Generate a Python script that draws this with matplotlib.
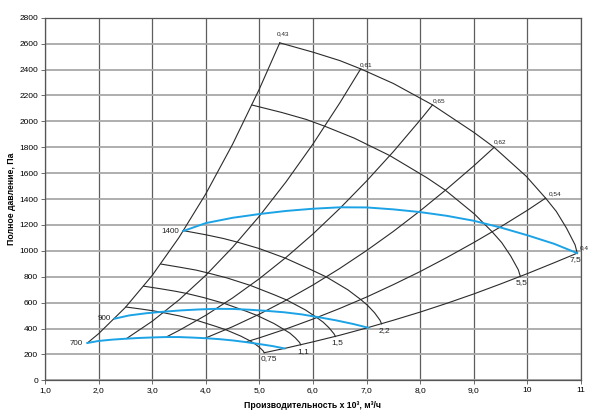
import matplotlib.pyplot as plt

plt.rcParams['font.family'] = ['Liberation Sans', 'DejaVu Sans']

# fan curves at max speed and for smaller motors, Q in 10^3 m3/h, P in Pa
q_75 = [5.38, 6.0, 6.5, 6.89, 7.5, 8.23, 9.0, 9.38, 9.98, 10.34, 10.54, 10.73, 10.89, 10.93]
p_75 = [2606, 2534, 2469, 2405, 2292, 2127, 1915, 1799, 1575, 1407, 1304, 1175, 1046, 982]
q_55 = [4.86, 5.42, 5.87, 6.22, 6.77, 7.43, 8.13, 8.47, 9.01, 9.34, 9.52, 9.69, 9.83, 9.87]
p_55 = [2126, 2068, 2015, 1962, 1870, 1736, 1563, 1468, 1285, 1148, 1064, 959, 854, 801]
q_22 = [3.58, 4.0, 4.33, 4.59, 5.0, 5.48, 5.99, 6.25, 6.65, 6.89, 7.02, 7.15, 7.25, 7.28]
p_22 = [1156, 1124, 1095, 1067, 1017, 944, 849, 798, 699, 624, 578, 521, 464, 436]
q_15 = [3.16, 3.52, 3.82, 4.04, 4.40, 4.83, 5.28, 5.51, 5.86, 6.07, 6.19, 6.30, 6.39, 6.42]
p_15 = [898, 873, 851, 829, 790, 733, 660, 620, 543, 485, 449, 405, 360, 338]
q_11 = [2.84, 3.17, 3.43, 3.64, 3.96, 4.35, 4.75, 4.95, 5.27, 5.46, 5.57, 5.67, 5.75, 5.77]
p_11 = [727, 706, 688, 671, 639, 593, 534, 502, 439, 392, 364, 328, 292, 274]
q_075 = [2.51, 2.80, 3.03, 3.21, 3.50, 3.84, 4.19, 4.37, 4.65, 4.82, 4.91, 5.00, 5.07, 5.09]
p_075 = [566, 550, 536, 522, 498, 462, 416, 391, 342, 306, 283, 255, 227, 213]

# speed curves (blue), rpm
q_1400 = [3.58, 4.0, 4.5, 5.0, 5.5, 6.0, 6.5, 7.0, 7.5, 8.0, 8.5, 9.0, 9.5, 10.0, 10.5, 10.93]
p_1400 = [1153, 1214, 1255, 1284, 1308, 1325, 1336, 1335, 1320, 1299, 1270, 1232, 1180, 1120, 1054, 982]
q_900 = [2.30, 2.57, 2.89, 3.22, 3.54, 3.86, 4.18, 4.50, 4.82, 5.14, 5.47, 5.79, 6.11, 6.43, 6.75, 7.03]
p_900 = [476, 501, 518, 530, 540, 547, 552, 551, 545, 536, 525, 509, 487, 463, 435, 406]
q_700 = [1.79, 2.0, 2.25, 2.5, 2.75, 3.0, 3.25, 3.5, 3.75, 4.0, 4.25, 4.5, 4.75, 5.0, 5.25, 5.47]
p_700 = [288, 304, 314, 321, 327, 331, 334, 334, 330, 325, 318, 308, 295, 280, 264, 246]

# efficiency lines
q_e043 = [1.79, 2.0, 2.5, 3.0, 3.5, 4.0, 4.5, 5.0, 5.38]
p_e043 = [288, 360, 563, 810, 1103, 1440, 1823, 2250, 2606]
q_e061 = [2.52, 3.0, 3.5, 4.0, 4.5, 5.0, 5.5, 6.0, 6.5, 6.89]
p_e061 = [322, 456, 621, 811, 1027, 1268, 1534, 1825, 2142, 2405]
q_e065 = [3.27, 3.5, 4.0, 4.5, 5.0, 5.5, 6.0, 6.5, 7.0, 7.5, 8.0, 8.23]
p_e065 = [336, 385, 502, 636, 785, 950, 1130, 1327, 1539, 1766, 2010, 2127]
q_e062 = [3.98, 4.5, 5.0, 5.5, 6.0, 6.5, 7.0, 7.5, 8.0, 8.5, 9.0, 9.38]
p_e062 = [324, 414, 511, 619, 736, 864, 1002, 1150, 1309, 1478, 1656, 1799]
q_e054 = [4.77, 5.0, 5.5, 6.0, 6.5, 7.0, 7.5, 8.0, 8.5, 9.0, 9.5, 10.0, 10.34]
p_e054 = [299, 328, 397, 473, 555, 643, 739, 840, 949, 1064, 1185, 1313, 1407]
q_e04 = [5.09, 5.5, 6.0, 6.5, 7.0, 7.5, 8.0, 8.5, 9.0, 9.5, 10.0, 10.5, 10.93]
p_e04 = [213, 249, 297, 348, 404, 464, 527, 595, 667, 744, 824, 908, 982]

eff_labels = ['0,43', '0,61', '0,65', '0,62', '0,54', '0,4']
pow_labels = ['0,75', '1,1', '1,5', '2,2', '5,5', '7,5']
rpm_labels = ['1400', '900', '700']

xticks = [1, 2, 3, 4, 5, 6, 7, 8, 9, 10, 11]
xticklabels = ['1,0', '2,0', '3,0', '4,0', '5,0', '6,0', '7,0', '8,0', '9,0', '10', '11']
yticks = list(range(0, 2801, 200))

fig = plt.figure(figsize=(6, 4.2), dpi=100)
ax = fig.add_axes([0.075, 0.0945, 0.8933, 0.8633])

ax.set_xlim(1, 11)
ax.set_ylim(0, 2800)
ax.set_xticks(xticks)
ax.set_xticklabels(xticklabels)
ax.set_yticks(yticks)
ax.tick_params(labelsize=6, length=3, width=0.6, color='#555555', pad=2)

# grid: vertical darker, horizontal lighter
for xv in xticks:
    ax.axvline(xv, color='#5e5e5e', lw=0.9, zorder=1)
for yv in yticks:
    ax.axhline(yv, color='#a8a8a8', lw=1.3, zorder=1)
for s in ax.spines.values():
    s.set_color('#555555')
    s.set_linewidth(0.9)

blk = dict(color='#2b2b2b', lw=0.8, zorder=3)
curves = [(q_75, p_75), (q_55, p_55), (q_22, p_22), (q_15, p_15), (q_11, p_11), (q_075, p_075)]
for q, p in curves:
    ax.plot(q, p, **blk)

effs = [(q_e043, p_e043), (q_e061, p_e061), (q_e065, p_e065),
        (q_e062, p_e062), (q_e054, p_e054), (q_e04, p_e04)]
for q, p in effs:
    ax.plot(q, p, **blk)

blue = '#1ba3e6'
for q, p in [(q_1400, p_1400), (q_900, p_900), (q_700, p_700)]:
    ax.plot(q, p, color=blue, lw=1.4, zorder=4)

# efficiency labels at the top ends of the lines
eff_offsets = [(2, 5, 'center'), (-1, 1, 'left'), (0, 1, 'left'),
               (0, 2, 'left'), (2, 1, 'left'), (2, 2, 'left')]
for (q, p), lab, (dx, dy, ha) in zip(effs, eff_labels, eff_offsets):
    ax.annotate(lab, (q[-1], p[-1]), xytext=(dx, dy), textcoords='offset points',
                ha=ha, va='bottom', fontsize=4.6, color='#222222')

# motor power labels at the lower ends of the fan curves
pow_ends = [(q_075, p_075), (q_11, p_11), (q_15, p_15), (q_22, p_22), (q_55, p_55), (q_75, p_75)]
pow_dx = [3, 2, 1, 2, 1, -1.5]
for (q, p), lab, dx in zip(pow_ends, pow_labels, pow_dx):
    ax.annotate(lab, (q[-1], p[-1]), xytext=(dx, -2), textcoords='offset points',
                ha='center', va='top', fontsize=6, color='#222222')

for (q, p), lab in zip([(q_1400, p_1400), (q_900, p_900), (q_700, p_700)], rpm_labels):
    ax.annotate(lab, (q[0], p[0]), xytext=(-3, 0), textcoords='offset points',
                ha='right', va='center', fontsize=5.8, color='#222222')

ax.set_xlabel('Производительность x 10³, м³/ч', fontsize=6.2, fontweight='bold', labelpad=5)
ax.set_ylabel('Полное давление, Па', fontsize=6.2, fontweight='bold', labelpad=2)

fig.savefig('out.png', dpi=100)
